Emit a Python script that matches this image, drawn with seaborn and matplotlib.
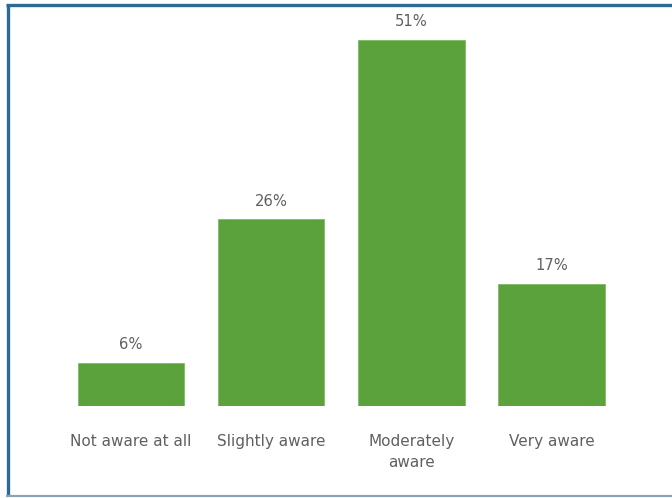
import matplotlib
matplotlib.use("Agg")
import matplotlib.pyplot as plt
import seaborn as sns
import pandas as pd
from matplotlib.lines import Line2D

categories = ["Not aware at all", "Slightly aware", "Moderately\naware", "Very aware"]
values = [6, 26, 51, 17]

sns.set_theme(style="white")
plt.rcParams["font.family"] = ["DejaVu Sans"]

df = pd.DataFrame({"level": categories, "pct": values})

W, H = 672, 498
fig = plt.figure(figsize=(W / 100, H / 100), dpi=100)
ax = fig.add_axes([0.0908, 0.1847, 0.8342, 0.793])

sns.barplot(data=df, x="level", y="pct", color="#5ba23c", saturation=1,
            width=0.76, ax=ax, edgecolor="#7dbb63", linewidth=0.6)

ax.set_xlim(-0.5, 3.5)
ax.set_ylim(0, 55)
for i, v in enumerate(values):
    ax.text(i, v + 1.5, f"{v}%", ha="center", va="bottom",
            fontsize=10.6, color="#606060")

ax.set_xlabel("")
ax.set_ylabel("")
ax.set_yticks([])
ax.tick_params(axis="x", length=0, pad=20, labelsize=11, labelcolor="#606060")
for lbl in ax.get_xticklabels():
    lbl.set_linespacing(1.55)
for s in ax.spines.values():
    s.set_visible(False)

# outer frame: dark top and left edges, light bottom edge
def fx(px):
    return px / W

def fy(py):
    return 1 - py / H

fig.add_artist(Line2D([fx(6), 1], [fy(5), fy(5)], transform=fig.transFigure,
                      color="#2a6a93", linewidth=2.4, solid_capstyle="butt"))
fig.add_artist(Line2D([fx(7.5), fx(7.5)], [fy(3.8), fy(495)], transform=fig.transFigure,
                      color="#2a6a93", linewidth=2.4, solid_capstyle="butt"))
fig.add_artist(Line2D([fx(6), 1], [fy(495.5), fy(495.5)], transform=fig.transFigure,
                      color="#86a5bc", linewidth=1.6, solid_capstyle="butt"))

fig.savefig("out.png", dpi=100)
